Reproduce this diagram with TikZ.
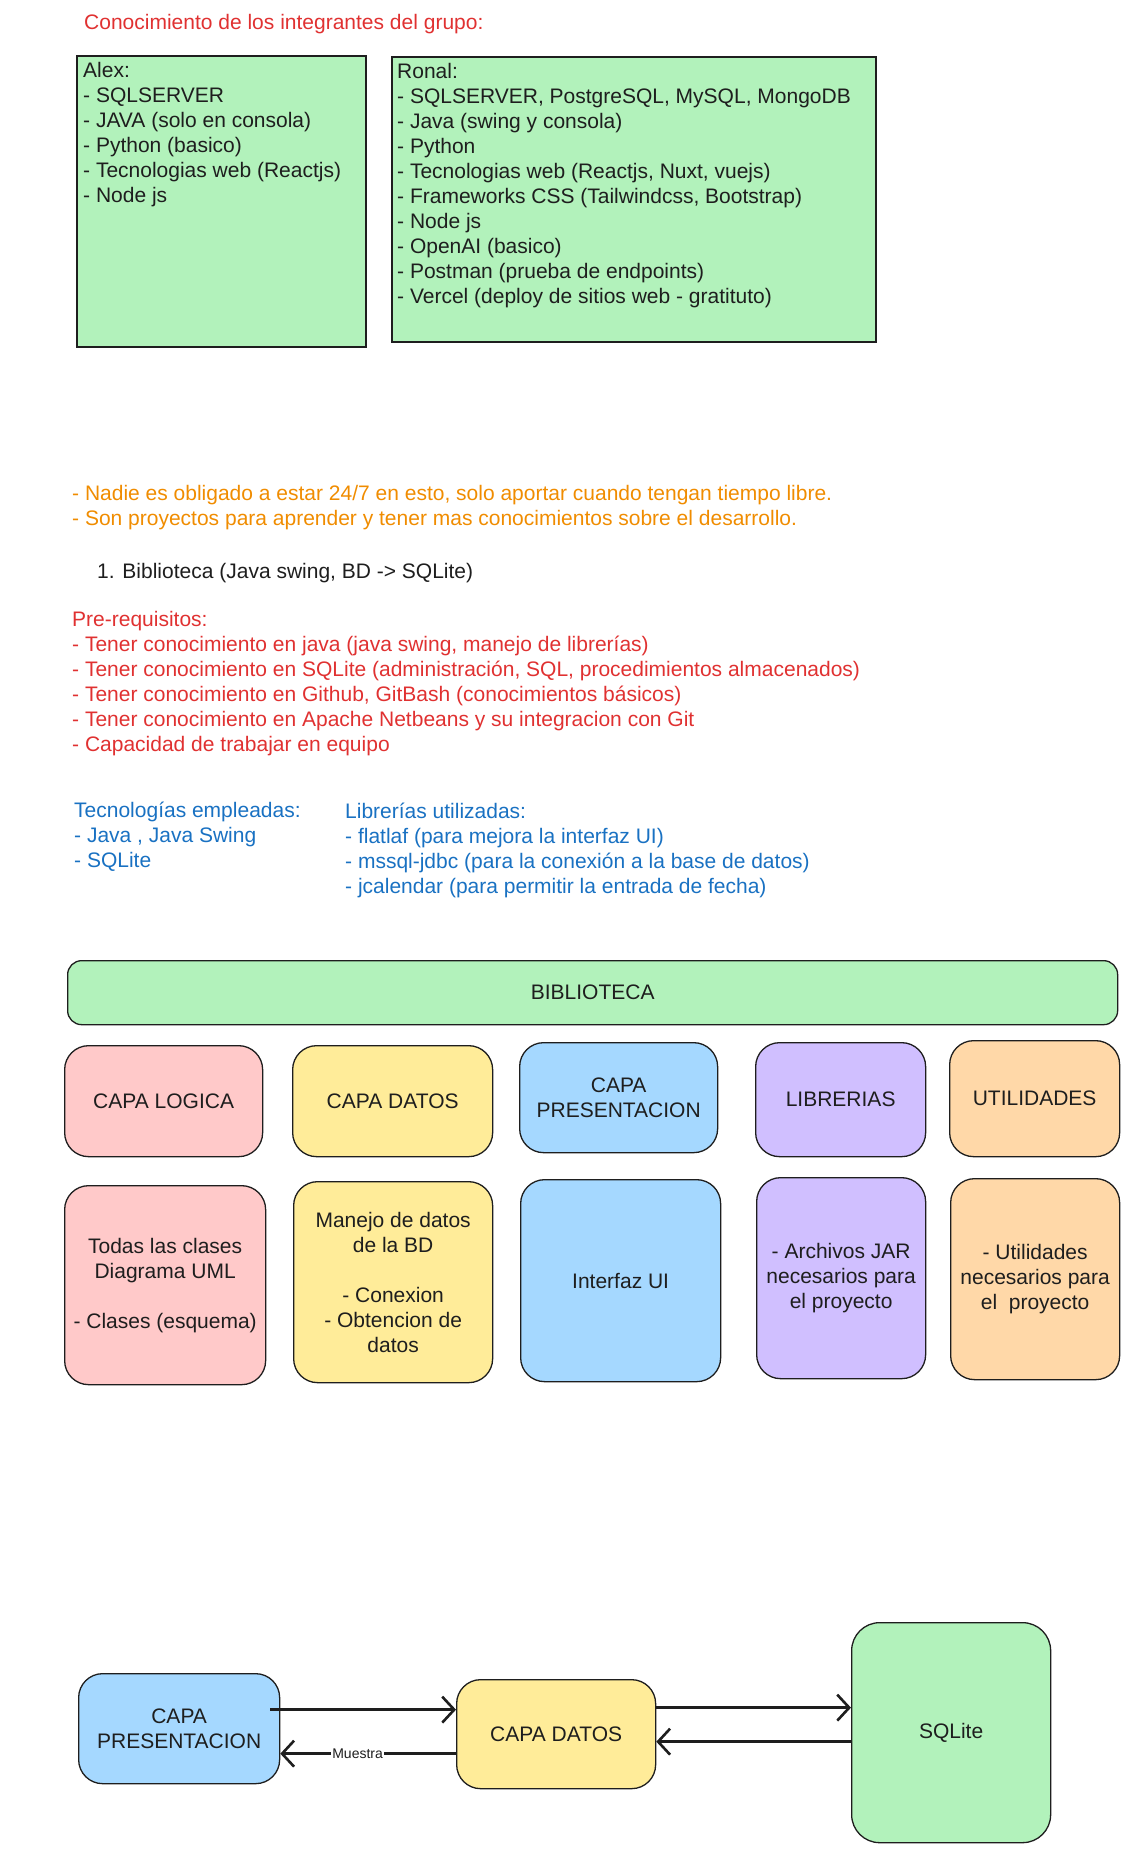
\documentclass[tikz,border=0pt]{standalone}
\usepackage{fontspec}
\setmainfont{Liberation Sans}
\usetikzlibrary{arrows.meta}

% Colores
\definecolor{verde}{HTML}{B2F2BB}
\definecolor{rosa}{HTML}{FFC9C9}
\definecolor{amarillo}{HTML}{FFEC99}
\definecolor{celeste}{HTML}{A5D8FF}
\definecolor{lila}{HTML}{D0BFFF}
\definecolor{naranja}{HTML}{FFD8A8}
\definecolor{trazo}{HTML}{1E1E1E}
\definecolor{rojo}{HTML}{E03131}
\definecolor{ocre}{HTML}{F08C00}
\definecolor{azul}{HTML}{1971C2}

\tikzset{
  texto/.style={font=\fontsize{21}{25}\selectfont, align=left, inner sep=0pt, text=trazo},
  hoja/.style={draw=trazo, line width=1.8pt, fill=verde, anchor=north west, inner sep=0pt},
  capa/.style={draw=trazo, line width=1.3pt, rounded corners=24pt, anchor=north west,
    font=\fontsize{21}{25}\selectfont, align=center, inner sep=0pt, text=trazo},
  flecha/.style={draw=trazo, line width=2.6pt, -{Straight Barb[length=12pt,width=26pt]}},
}

\begin{document}
\begin{tikzpicture}[x=1pt,y=1pt]
  \useasboundingbox (0,0) rectangle (1148,-1853);

  % Integrantes
  \node[texto, text=rojo, anchor=base west] (titulo) at (84,-29) {Conocimiento de los integrantes del grupo:};
  \node[hoja, minimum width=289pt, minimum height=291pt] (alex) at (76,-55) {};
  \node[hoja, minimum width=484pt, minimum height=285pt] (ronal) at (391,-56) {};
  \node[texto, anchor=north west] (alexlista) at (83,-62) {Alex:\\- SQLSERVER\\- JAVA (solo en consola)\\- Python (basico)\\- Tecnologias web (Reactjs)\\- Node js};
  \node[texto, anchor=north west] (ronallista) at (397,-63) {Ronal:\\- SQLSERVER, PostgreSQL, MySQL, MongoDB\\- Java (swing y consola)\\- Python\\- Tecnologias web (Reactjs, Nuxt, vuejs)\\- Frameworks CSS (Tailwindcss, Bootstrap)\\- Node js\\- OpenAI (basico)\\- Postman (prueba de endpoints)\\- Vercel (deploy de sitios web - gratituto)};

  % Notas
  \node[texto, text=ocre, anchor=north west] (nota) at (72,-485) {- Nadie es obligado a estar 24/7 en esto, solo aportar cuando tengan tiempo libre.\\- Son proyectos para aprender y tener mas conocimientos sobre el desarrollo.};
  \node[texto, anchor=base west] (proyecto) at (97,-578) {1. Biblioteca (Java swing, BD -> SQLite)};
  \node[texto, text=rojo, anchor=north west] (prereq) at (72,-611) {Pre-requisitos:\\- Tener conocimiento en java (java swing, manejo de librerías)\\- Tener conocimiento en SQLite (administración, SQL, procedimientos almacenados)\\- Tener conocimiento en Github, GitBash (conocimientos básicos)\\- Tener conocimiento en Apache Netbeans y su integracion con Git\\- Capacidad de trabajar en equipo};
  \node[texto, text=azul, anchor=north west] (tecno) at (74,-802) {Tecnologías empleadas:\\- Java , Java Swing\\- SQLite};
  \node[texto, text=azul, anchor=north west] (libs) at (345,-803) {Librerías utilizadas:\\- flatlaf (para mejora la interfaz UI)\\- mssql-jdbc (para la conexión a la base de datos)\\- jcalendar (para permitir la entrada de fecha)};

  % Capas
  \node[capa, rounded corners=14pt, fill=verde, minimum width=1050pt, minimum height=64pt] (biblioteca) at (67,-960) {BIBLIOTECA};
  \node[capa, fill=rosa, minimum width=198pt, minimum height=111pt] (logica) at (64,-1045) {CAPA LOGICA};
  \node[capa, fill=amarillo, minimum width=200pt, minimum height=111pt] (datos) at (292,-1045) {CAPA DATOS};
  \node[capa, fill=celeste, minimum width=198pt, minimum height=110pt] (presentacion) at (519,-1042) {CAPA\\PRESENTACION};
  \node[capa, fill=lila, minimum width=170pt, minimum height=114pt] (librerias) at (755,-1042) {LIBRERIAS};
  \node[capa, fill=naranja, minimum width=170pt, minimum height=116pt] (utilidades) at (949,-1040) {UTILIDADES};

  \node[capa, fill=rosa, minimum width=201pt, minimum height=199pt] (logicadet) at (64,-1185) {Todas las clases\\Diagrama UML\\[25pt]- Clases (esquema)};
  \node[capa, fill=amarillo, minimum width=199pt, minimum height=201pt] (datosdet) at (293,-1181) {Manejo de datos\\de la BD\\[25pt]- Conexion\\- Obtencion de\\datos};
  \node[capa, fill=celeste, minimum width=200pt, minimum height=202pt] (presdet) at (520,-1179) {Interfaz UI};
  \node[capa, fill=lila, minimum width=169pt, minimum height=201pt] (libdet) at (756,-1177) {- Archivos JAR\\necesarios para\\el proyecto};
  \node[capa, fill=naranja, minimum width=169pt, minimum height=201pt] (utildet) at (950,-1178) {- Utilidades\\necesarios para\\el\ \ proyecto};

  % Flujo
  \node[capa, fill=celeste, minimum width=201pt, minimum height=110pt] (pres) at (78,-1673) {CAPA\\PRESENTACION};
  \node[capa, fill=amarillo, minimum width=199pt, minimum height=109pt] (capadatos) at (456,-1679) {CAPA DATOS};
  \node[capa, rounded corners=28pt, fill=verde, minimum width=199pt, minimum height=220pt] (sqlite) at (851,-1622) {SQLite};

  \draw[flecha] ([xshift=-10pt,yshift=19pt]pres.east) -- ([yshift=19pt]pres.east -| capadatos.west);
  \draw[flecha] ([yshift=26.5pt]capadatos.east) -- ([yshift=26.5pt]capadatos.east -| sqlite.west);
  \draw[flecha] ([yshift=-7.5pt]capadatos.east -| sqlite.west) -- ([yshift=-7.5pt]capadatos.east);
  \draw[flecha] ([yshift=-19.5pt]capadatos.west) -- node[pos=0.56, fill=white, inner sep=1pt, font=\fontsize{14}{16}\selectfont, text=trazo] (muestra) {Muestra} ([yshift=-19.5pt]capadatos.west -| pres.east);
\end{tikzpicture}
\end{document}
